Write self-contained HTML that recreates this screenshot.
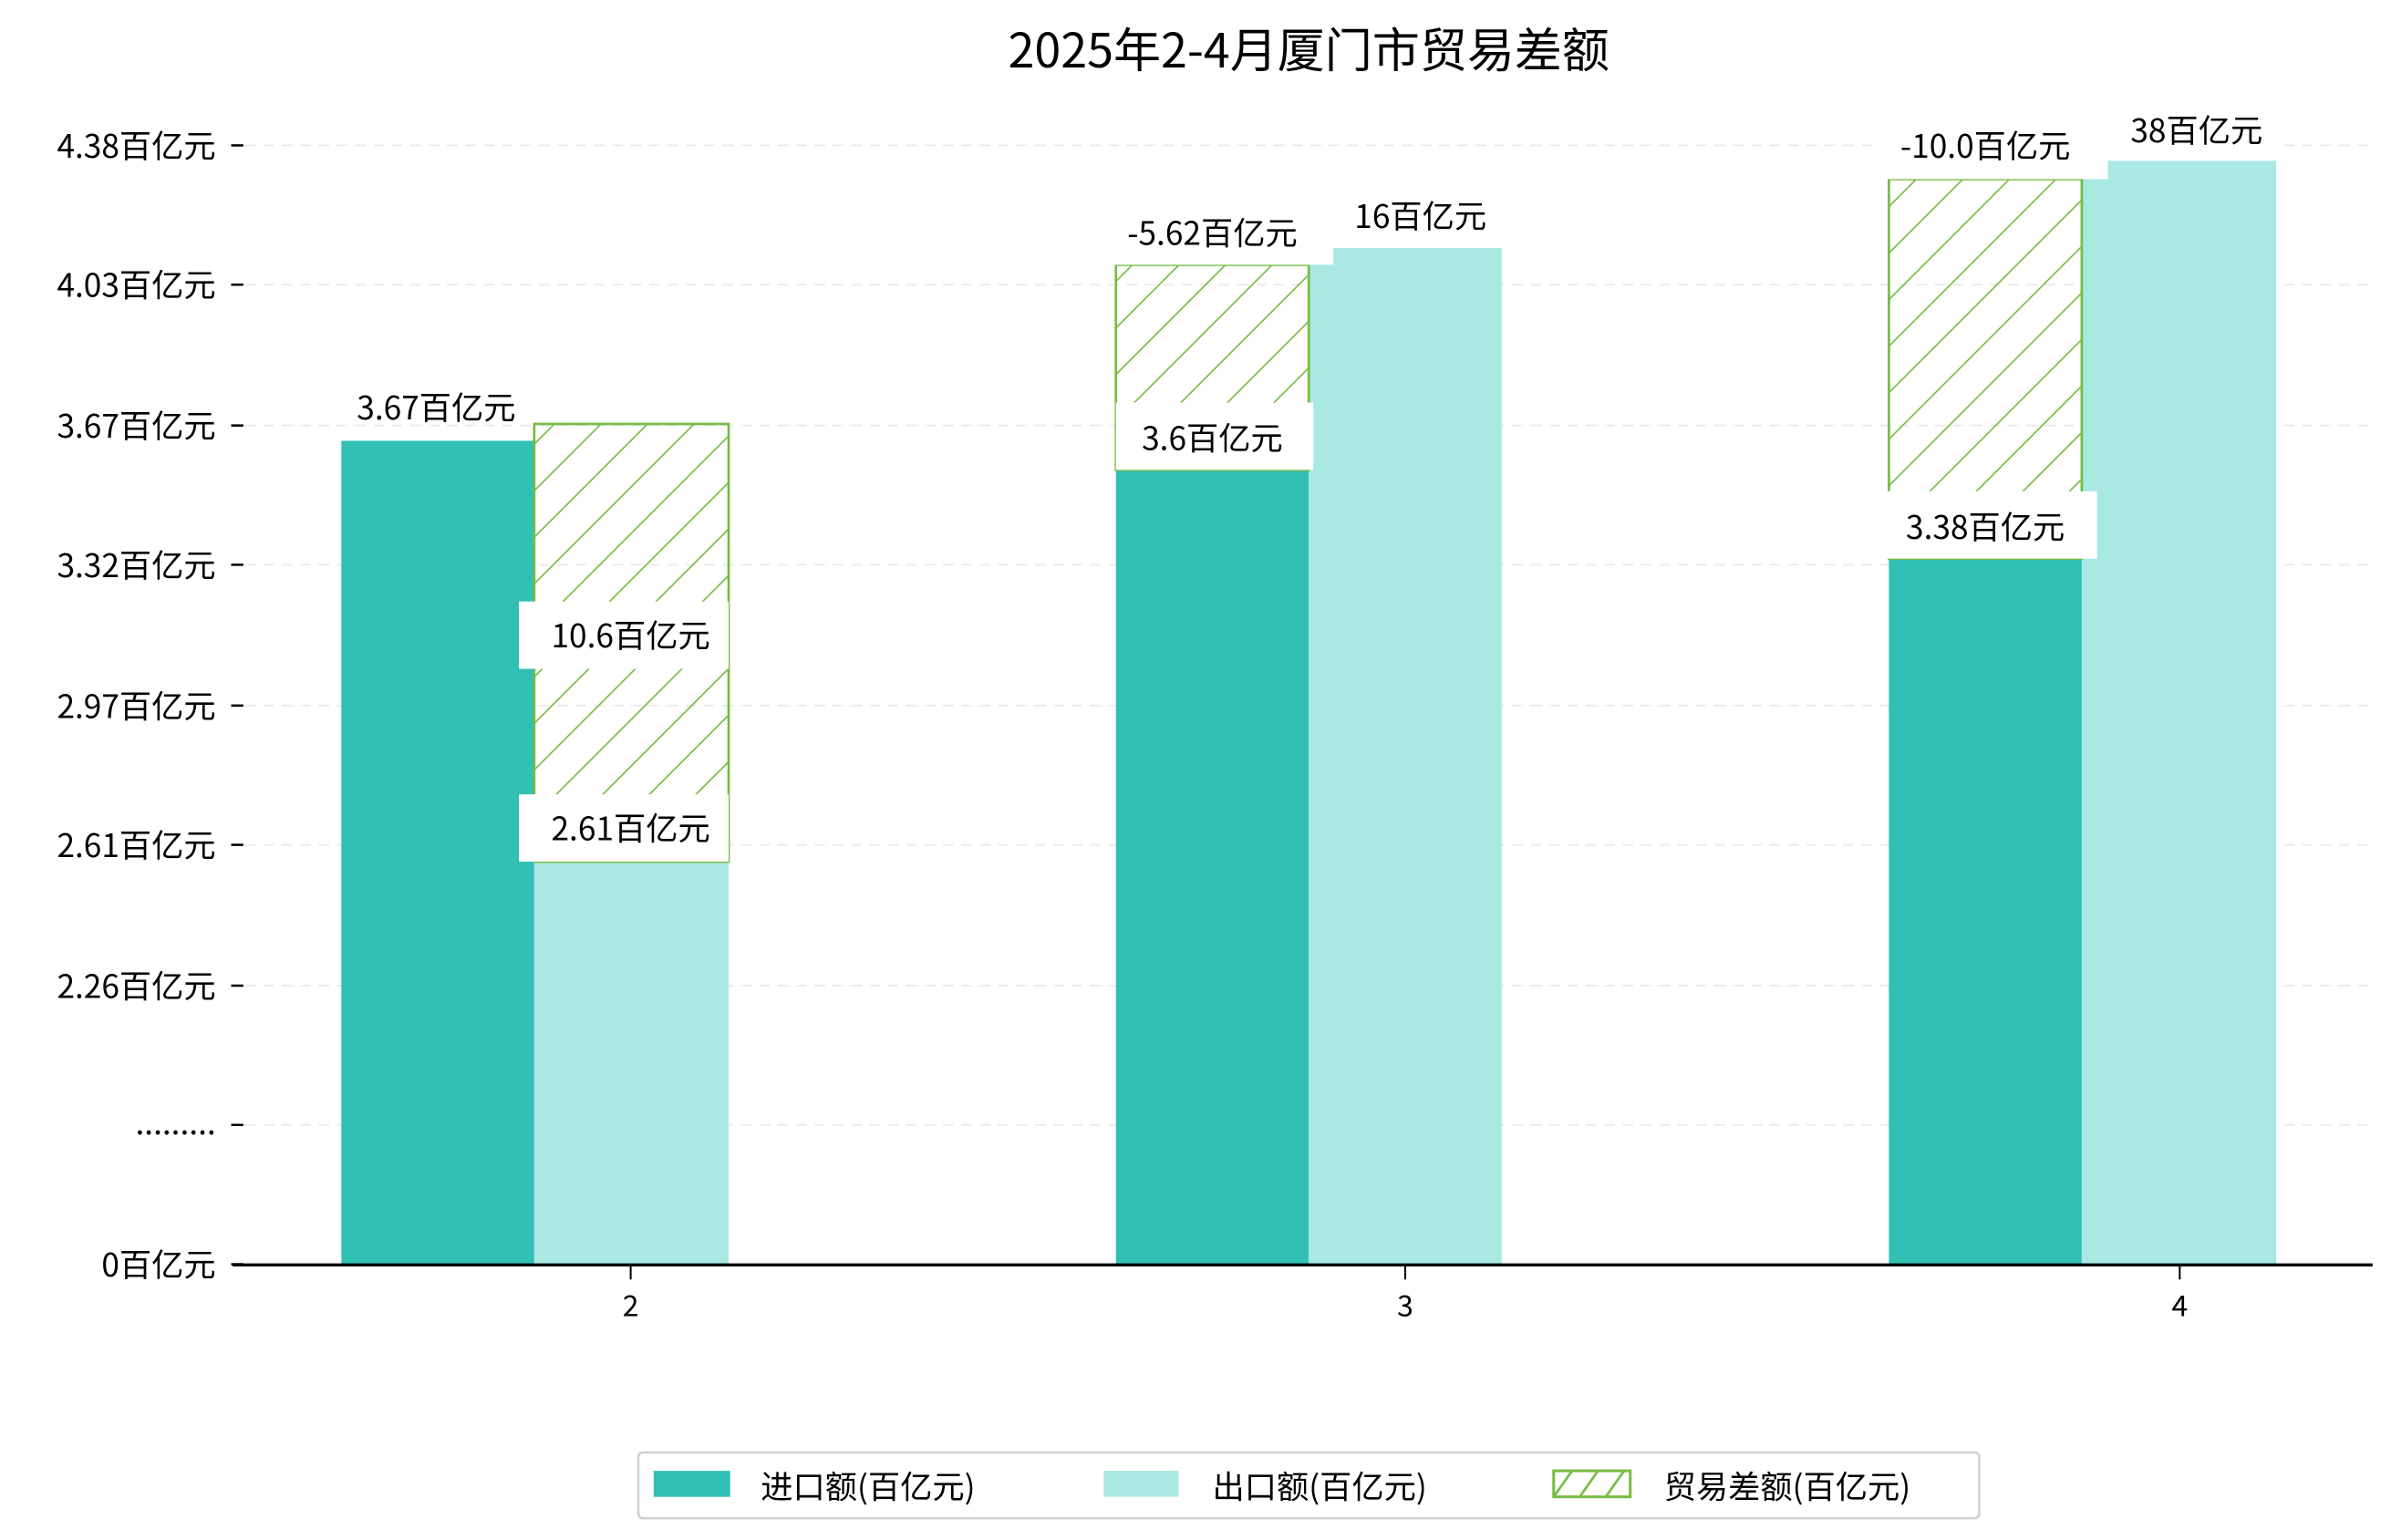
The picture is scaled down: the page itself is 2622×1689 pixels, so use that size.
<!DOCTYPE html>
<html><head><meta charset="utf-8"><style>
html,body{margin:0;padding:0;background:#fff;}
svg{display:block;}
text{font-family:"WenQuanYi Zen Hei","Noto Sans CJK SC",sans-serif;fill:#000;}
</style></head><body>
<svg width="2622" height="1689" viewBox="0 0 1562 1006.2" xmlns="http://www.w3.org/2000/svg">
<defs>
<pattern id="h" patternUnits="userSpaceOnUse" width="21.5" height="21.5" patternTransform="rotate(45)">
<line x1="0" y1="0" x2="0" y2="21.5" stroke="#77bb44" stroke-width="2"/>
</pattern>
<pattern id="hl" patternUnits="userSpaceOnUse" width="17" height="17" x="1015" y="961">
<line x1="0" y1="17" x2="12" y2="0" stroke="#77bb44" stroke-width="1.6"/>
<line x1="17" y1="17" x2="29" y2="0" stroke="#77bb44" stroke-width="1.6"/>
</pattern>
</defs>
<rect width="1562" height="1006.2" fill="#fff"/>
<text x="855" y="44" font-size="31" text-anchor="middle">2025年2-4月厦门市贸易差额</text>
<g stroke="#ebebeb" stroke-width="1.2" stroke-dasharray="7,5">
<line x1="160" y1="95" x2="1550" y2="95"/><line x1="160" y1="186" x2="1550" y2="186"/>
<line x1="160" y1="278" x2="1550" y2="278"/><line x1="160" y1="369" x2="1550" y2="369"/>
<line x1="160" y1="461" x2="1550" y2="461"/><line x1="160" y1="552" x2="1550" y2="552"/>
<line x1="160" y1="644" x2="1550" y2="644"/><line x1="160" y1="735" x2="1550" y2="735"/>
</g>
<g font-size="21" text-anchor="end">
<text x="141" y="103">4.38百亿元</text><text x="141" y="194">4.03百亿元</text>
<text x="141" y="286">3.67百亿元</text><text x="141" y="377">3.32百亿元</text>
<text x="141" y="469">2.97百亿元</text><text x="141" y="560">2.61百亿元</text>
<text x="141" y="652">2.26百亿元</text><text x="141" y="741">.........</text>
<text x="141" y="834">0百亿元</text>
</g>
<g stroke="#000" stroke-width="1.5">
<line x1="151" y1="95" x2="159" y2="95"/><line x1="151" y1="186" x2="159" y2="186"/>
<line x1="151" y1="278" x2="159" y2="278"/><line x1="151" y1="369" x2="159" y2="369"/>
<line x1="151" y1="461" x2="159" y2="461"/><line x1="151" y1="552" x2="159" y2="552"/>
<line x1="151" y1="644" x2="159" y2="644"/><line x1="151" y1="735" x2="159" y2="735"/>
<line x1="151" y1="826" x2="159" y2="826"/>
</g>
<rect x="223" y="288" width="126" height="538" fill="#31c0b4"/>
<rect x="349" y="563" width="127" height="263" fill="#aae8e2"/>
<rect x="349" y="277" width="127" height="286" fill="url(#h)" stroke="#77bb44" stroke-width="1.6"/>
<rect x="729" y="307" width="126" height="519" fill="#31c0b4"/>
<rect x="855" y="162" width="126" height="664" fill="#aae8e2"/>
<rect x="729" y="173" width="126" height="134" fill="url(#h)" stroke="#77bb44" stroke-width="1.6"/>
<rect x="1234" y="365" width="126" height="461" fill="#31c0b4"/>
<rect x="1360" y="105" width="127" height="721" fill="#aae8e2"/>
<rect x="1234" y="117" width="126" height="248" fill="url(#h)" stroke="#77bb44" stroke-width="1.6"/>
<g fill="#fff">
<rect x="216" y="248" width="132" height="29"/>
<rect x="339" y="393" width="137" height="44"/><rect x="339" y="519" width="137" height="44"/>
<rect x="716" y="130" width="155" height="43"/><rect x="871" y="122" width="110" height="40"/>
<rect x="729" y="263" width="129" height="44"/>
<rect x="1224" y="73" width="153" height="44"/><rect x="1377" y="65" width="110" height="40"/>
<rect x="1224" y="321" width="146" height="44"/>
</g>
<g font-size="21" text-anchor="middle">
<text x="285" y="274">3.67百亿元</text>
<text x="412" y="423">10.6百亿元</text><text x="412" y="549">2.61百亿元</text>
<text x="792" y="160">-5.62百亿元</text><text x="928" y="149">16百亿元</text>
<text x="792" y="294">3.6百亿元</text>
<text x="1297" y="103">-10.0百亿元</text><text x="1435" y="93">38百亿元</text>
<text x="1297" y="352">3.38百亿元</text>
</g>
<line x1="152" y1="826.5" x2="1550" y2="826.5" stroke="#000" stroke-width="2"/>
<g stroke="#000" stroke-width="1.2">
<line x1="412" y1="827" x2="412" y2="836"/><line x1="918" y1="827" x2="918" y2="836"/><line x1="1424" y1="827" x2="1424" y2="836"/>
</g>
<g font-size="19" text-anchor="middle">
<text x="412" y="860">2</text><text x="918" y="860">3</text><text x="1424" y="860">4</text>
</g>
<rect x="417" y="949" width="876" height="43" rx="3" fill="#fff" stroke="#d0d0d0" stroke-width="1.5"/>
<rect x="427" y="961" width="50" height="17" fill="#31c0b4"/>
<rect x="721" y="961" width="49" height="17" fill="#aae8e2"/>
<rect x="1015" y="961" width="50" height="17" fill="url(#hl)" stroke="#77bb44" stroke-width="1.8"/>
<g font-size="21">
<text x="497" y="979">进口额(百亿元)</text>
<text x="792" y="979">出口额(百亿元)</text>
<text x="1087" y="979">贸易差额(百亿元)</text>
</g>
</svg>
</body></html>
